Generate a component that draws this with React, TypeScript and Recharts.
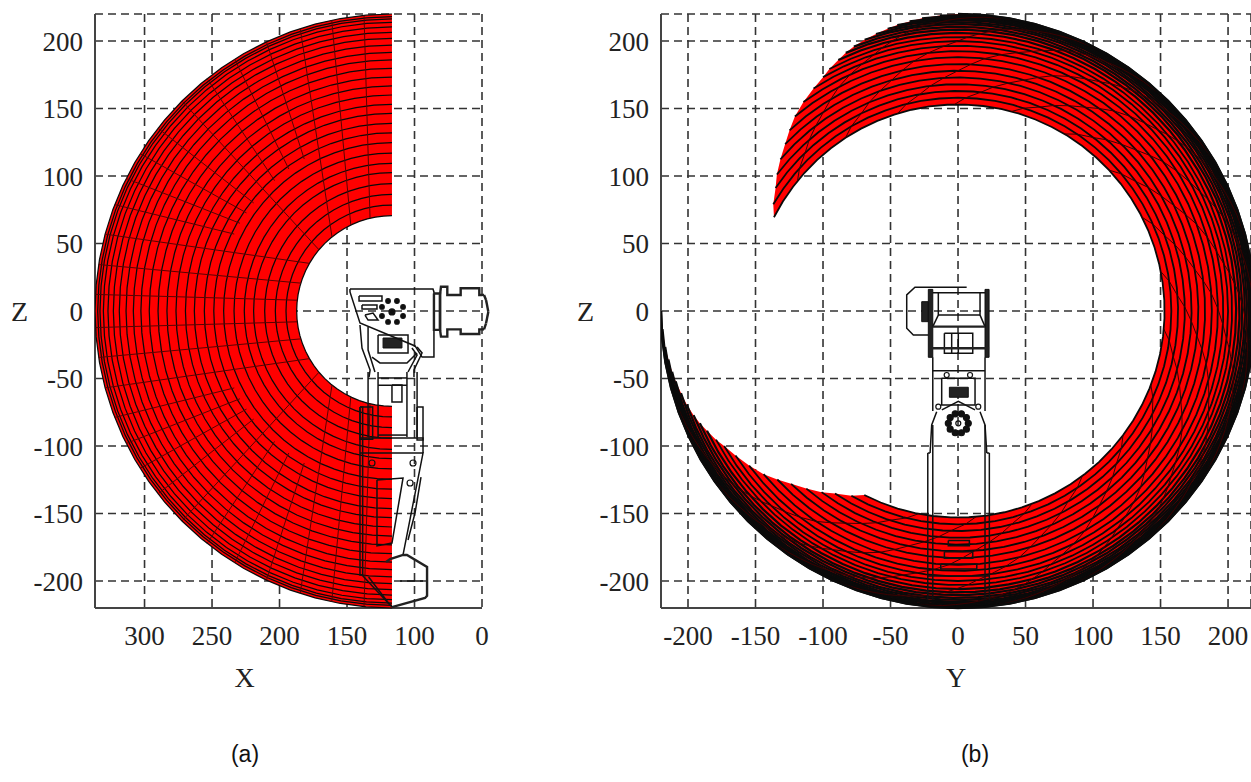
import React from 'react';
import { CartesianGrid, ReferenceLine, Scatter, ScatterChart, XAxis, YAxis } from 'recharts';

type Pair = [number, number];

// ---- axes
const zTicks = [200, 150, 100, 50, 0, -50, -100, -150, -200];
const xTicksA = [300, 250, 200, 150, 100, 50];
const xTickLabelsA = ['300', '250', '200', '150', '100', '0'];
const yTicksB = [-200, -150, -100, -50, 0, 50, 100, 150, 200];

// ---- panel (a): ring radii around the shoulder, and mesh lines
const shoulderA = 116.7;
const ringsA = [70.6, 78.5, 86.4, 94.3, 102.5, 109.4, 117, 124.7, 132, 139, 146.4, 153, 160, 166.7, 173.3, 179.8, 186, 191.6, 197, 202, 206.4, 210.4, 213.8, 216.3, 218, 220];
const arcStopsA = [0, 5, 10, 15, 20, 25, 30, 35, 40, 45, 50, 55, 60, 65, 70, 75, 80, 85, 90, 95, 100, 105, 110, 115, 120, 125, 130, 135, 140, 145, 150, 155, 160, 165, 170, 175, 180];
// [ring where it starts, angle from vertical there, angle from vertical on the outer ring]
const spokesA: [number, number, number][] = [
  [70.6, 13.3, 5.4], [70.6, 25.6, 11.7], [70.6, 39, 18], [70.6, 50, 45], [70.6, 60, 75], [70.6, 73, 81], [70.6, 83.5, 86.8],
  [130, 30, 25], [130, 36, 32], [130, 42, 38.5], [130, 52, 52], [130, 56, 58], [130, 60, 63.5], [130, 64, 69],
];

// ---- panel (b): ring radius and the angle where that ring starts
const ringsB = [153, 158, 163, 168, 173, 178, 183, 188, 192.5, 196.5, 200, 203, 206, 208.5, 210.5, 212.5, 214, 215.5, 216.5, 217.5, 218.5, 219.3, 220];
const ringStartsB = [-63, -60, -56, -53, -49.5, -46, -43, -40, -36.5, -33, -30, -28, -25.5, -23.5, -21.5, -19, -16.5, -14, -12, -9.5, -7, -3.5, 0];
const sweepStopsB = [0, 5, 10, 15, 20, 25, 30, 35, 40, 45, 50, 55, 60, 65, 70, 75, 80, 85, 90, 95, 100, 105, 110, 115, 120, 125, 130, 135, 140, 145, 150, 155, 160, 165, 170, 175, 180, 185, 190, 195, 200, 205, 210, 215, 220, 225, 230, 235, 240, 245, 250, 255, 260, 265, 270];
const spokeSweepsB = [12, 30, 46, 62, 78, 94, 110, 126, 142, 158, 174, 190, 206, 222, 238, 254];

// ---- arm outline, panel (a)
const box = (a: number, b: number, c: number, d: number): Pair[] => [[a, b], [c, b], [c, d], [a, d], [a, b]];

const armLinesA: Pair[][] = [
  [[147.8, 16.3], [86.3, 16.3], [85.6, 14.1], [85.6, -34.1], [94.4, -34.1], [99.6, -25.9], [140.4, -8.9], [147.8, 14.1], [147.8, 16.3]],
  box(141.1, 11.1, 124.1, 7.4),
  box(138.9, 4.4, 127.8, 1.5),
  [[136.7, -3], [130.7, -1.5], [127, -6.7], [134.4, -6.7], [136.7, -3]],
  box(127, -17.8, 104.8, -31.1),
  [[140.4, -10.4], [138.9, -27.4], [132.9, -43.7], [133.7, -48.9]],
  [[134.4, -11.9], [134.4, -28.9], [129.3, -45.2]],
  [[98.1, -26.7], [94.4, -31.1], [100.4, -43.7], [100.4, -48.9]],
  [[101.9, -27.4], [98.1, -32.6], [104.8, -45.2]],
  [[131.5, -34.1], [125.6, -38.5], [105.6, -38.5], [98.1, -31.1]],
  [[134.4, -45.2], [134.4, -93.3]],
  [[127, -45.2], [127, -93.3]],
  [[105.6, -45.2], [105.6, -93.3]],
  [[98.1, -45.2], [98.1, -93.3]],
  [[127, -49.6], [105.6, -49.6]],
  [[127, -55], [105.6, -55]],
  [[127, -91.9], [105.6, -91.9]],
  box(116.7, -54.8, 109.3, -67.4),
  box(98.1, -71.1, 93.7, -95.6),
  box(140.4, -71.1, 131, -95),
  [[140.4, -94], [93.7, -94], [93.7, -105.2]],
  [[140.4, -105.2], [93.7, -105.2], [108.5, -180.7]],
  box(140.4, -71.1, 138.4, -195.6),
  [[138.9, -195.6], [116.7, -219.3]],
  [[134, -197], [118, -218]],
  [[127.8, -125.2], [108.5, -123.7], [116.7, -171.9], [127.8, -174], [127.8, -125.2]],
  [[95.2, -123], [99.6, -149.6], [104.8, -169.6]],
  [[110.7, -200], [93.7, -200]],
];
const armThickA: Pair[][] = [
  [[121.1, -185.9], [118.1, -183.7], [108.5, -180.7], [105.6, -180.7], [90.7, -189.6], [90.7, -211], [92.2, -212.6], [116.7, -219.3]],
  [[81.1, 11.9], [80.4, 18], [75.7, 18], [75.7, 11.9], [65.8, 11.9], [65.8, 16.8], [52, 16.8], [52, 11.9], [50, 11.9]],
  [[50, -13.6], [52, -13.6], [52, -17], [65.8, -17], [65.8, -13.6], [75.7, -13.6], [75.7, -19], [80.4, -19], [81.1, -13.6], [81.1, 11.9]],
  [[85.6, 13], [81.1, 13], [81.1, -14], [85.6, -14], [85.6, 13]],
];
// the servo cap sticks out past the end of the X axis
const servoCapA: Pair[] = [[50, 11.9], [48.5, 11.9], [47, 8.1], [45.3, -0.5], [47, -9.1], [48.5, -13.6], [50, -13.6]];
const armFillsA: Pair[][] = [box(123.3, -20, 109.3, -27.4)];
const armDotsA: Pair[] = [[124.1, 3], [124.1, -3.7], [119.6, 7.4], [113, 7.4], [108.5, 3], [108.5, -3.7], [113, -8.1], [119.6, -8.1], [116.7, -0.7]];
const armHolesA: Pair[] = [[116.7, -0.7], [131.5, -112.6], [101.1, -112.6], [103.3, -127.4]];

// ---- arm outline, panel (b)
const armLinesB: Pair[][] = [
  [[6.4, 17.6], [-31.9, 17.6], [-38, 11.9], [-38, -12.8], [-33.1, -17.8], [-22, -17.8]],
  [[-18.7, 13.6], [20, 13.6]],
  [[-14.6, 13.6], [-14.6, -3], [-18.7, -11.6]],
  [[16.3, 13.6], [16.3, -3], [20, -11.6]],
  [[-14.6, -3], [16.3, -3]],
  box(-10.1, -16.5, 10.9, -31.3),
  [[-4.7, -16.5], [-4.7, -31.3]],
  [[0.2, -16.5], [0.2, -31.3]],
  [[-18.7, -34.3], [-18.7, -74]],
  [[20, -34.3], [20, -74]],
  [[-18.7, -44.2], [20, -44.2]],
  box(-12.1, -49.9, 12.6, -69.6),
  [[-15.8, -74.6], [-19.5, -84.4], [-20.7, -105.2]],
  [[16.3, -74.6], [20, -84.4], [21.3, -105.2]],
  [[-12, -73.3], [0.2, -67], [12.6, -73.3]],
  [[-22.4, -105.2], [-20.7, -105.2]],
  [[23.2, -105.2], [21.3, -105.2]],
  [[-22.4, -105.2], [-22.4, -214]],
  [[-18.7, -84.4], [-18.7, -214]],
  [[20, -84.4], [20, -214]],
  [[23.2, -105.2], [23.2, -214]],
  [[-22.4, -196.3], [23.2, -196.3]],
  box(-7.2, -170, 8.4, -173.8),
  box(-10.1, -178.3, 10.9, -183.2),
  box(-12.8, -187.4, 13.9, -191.1),
];
const armThickB: Pair[][] = [
  [[-18.7, -11.6], [20, -11.6]],
  [[-22, -27.6], [23, -27.6]],
];
const armFillsB: Pair[][] = [
  box(-26.9, 6.9, -22, -7.9),
  box(-22, 16, -18.7, -34.3),
  box(20, 16, 23, -34.3),
  box(-6.4, -56.5, 7.6, -63.9),
];
const armDotsB: Pair[] = [[7.6, -83.2], [6.2, -78.9], [2.5, -76.2], [-2.1, -76.2], [-5.8, -78.9], [-7.2, -83.2], [-5.8, -87.5], [-2.1, -90.2], [2.5, -90.2], [6.2, -87.5]];
const armHolesB: Pair[] = [[-8.4, -47.4], [8.9, -47.4], [-14.6, -70.9], [15, -70.9], [0.2, -83.2]];

// ---- geometry of the read values
const rad = Math.PI / 180;
const onRingA = (r: number, deg: number): Pair => [shoulderA + r * Math.sin(deg * rad), r * Math.cos(deg * rad)];
const onRingB = (r: number, deg: number): Pair => [r * Math.sin(deg * rad), r * Math.cos(deg * rad)];
const ringLineA = (r: number) => arcStopsA.map((d) => onRingA(r, d));
const ringLineB = (i: number) => sweepStopsB.map((t) => onRingB(ringsB[i], ringStartsB[i] + t));

const lastA = ringsA.length - 1;
const lastB = ringsB.length - 1;
const fillA: Pair[] = [...ringLineA(ringsA[lastA]), ...ringLineA(ringsA[0]).reverse()];
const fillB: Pair[] = [
  ...ringLineB(lastB),
  ...ringsB.map((r, i) => onRingB(r, ringStartsB[i] + 270)).reverse(),
  ...ringLineB(0).reverse(),
  ...ringsB.map((r, i) => onRingB(r, ringStartsB[i])),
];
const spokeLinesA: Pair[][] = spokesA.flatMap(([r, from, to]) => {
  const upper: Pair[] = [onRingA(r, from), onRingA(220, to)];
  const lower: Pair[] = upper.map(([x, z]) => [x, -z]);
  return [upper, lower];
});
const spokeLinesB: Pair[][] = spokeSweepsB.map((t) => ringsB.map((r, i) => onRingB(r, ringStartsB[i] + t)));

const noMark = () => <g />;

const path = (key: string, pairs: Pair[], stroke: string, width: number, fill = 'none') => (
  <Scatter
    key={key}
    data={pairs.map(([x, z]) => ({ x, z }))}
    line={{ stroke, strokeWidth: width, fill }}
    lineJointType="linear"
    shape={noMark}
    isAnimationActive={false}
  />
);

const dots = (key: string, pairs: Pair[], r: number, fill: string) => (
  <Scatter
    key={key}
    data={pairs.map(([x, z]) => ({ x, z }))}
    shape={(p: any) => <circle cx={p.cx} cy={p.cy} r={r} fill={fill} stroke="#111" strokeWidth={1.2} />}
    isAnimationActive={false}
  />
);

const tickStyle = { fontFamily: '"Liberation Serif"', fontSize: 27, fill: '#222' };
const titleStyle = { fontFamily: '"Liberation Serif"', fontSize: 28, fill: '#222' };
const axisLine = { stroke: '#444', strokeWidth: 2 };
const RED = '#ff0000';
const INK = '#0a0a0a';

const caption = (text: string, x: number) => (
  <div style={{ position: 'absolute', left: x - 40, top: 741, width: 80, textAlign: 'center', font: '23px "Liberation Sans"', color: '#111' }}>
    {text}
  </div>
);

export default function App() {
  return (
    <div style={{ position: 'absolute', left: 0, top: 0, width: 1251, height: 782, overflow: 'hidden', background: '#fff' }}>
      <div style={{ position: 'absolute', left: 0, top: 0 }}>
        <ScatterChart width={490} height={698} margin={{ top: 14, right: 8, bottom: 0, left: 0 }}>
          <CartesianGrid stroke="#333" strokeWidth={1.6} strokeDasharray="8 5" />
          <XAxis
            type="number"
            dataKey="x"
            reversed
            allowDataOverflow
            domain={[50, 336.7]}
            ticks={xTicksA}
            interval={0}
            tickFormatter={(v: number) => xTickLabelsA[xTicksA.indexOf(v)]}
            height={90}
            tickLine={false}
            tickMargin={12}
            axisLine={axisLine}
            tick={tickStyle}
            label={{ value: 'X', position: 'insideBottom', offset: 11, dx: -44, style: titleStyle }}
          />
          <YAxis
            type="number"
            dataKey="z"
            domain={[-220, 220]}
            ticks={zTicks}
            interval={0}
            width={95}
            tickLine={false}
            tickMargin={6}
            axisLine={axisLine}
            tick={tickStyle}
            label={{ value: 'Z', position: 'insideLeft', offset: 11, style: titleStyle }}
          />
          {path('fill', fillA, 'none', 0, RED)}
          {ringsA.map((r) => path(`ring-${r}`, ringLineA(r), INK, 1.25))}
          {spokeLinesA.map((s, i) => path(`spoke-${i}`, s, '#5a0000', 1))}
          {armFillsA.map((s, i) => path(`armf-${i}`, s, '#111', 1, '#222'))}
          {armLinesA.map((s, i) => path(`arm-${i}`, s, '#111', 1.5))}
          {armThickA.map((s, i) => path(`armt-${i}`, s, '#222', 2.4))}
          {servoCapA.slice(1).map((p, i) => (
            <ReferenceLine
              key={`cap-${i}`}
              ifOverflow="visible"
              segment={[{ x: servoCapA[i][0], y: servoCapA[i][1] }, { x: p[0], y: p[1] }]}
              stroke="#222"
              strokeWidth={2.4}
            />
          ))}
          {dots('dotsA', armDotsA, 2.3, '#111')}
          {dots('holesA', armHolesA, 3, 'none')}
        </ScatterChart>
      </div>
      <div style={{ position: 'absolute', left: 560, top: 0 }}>
        <ScatterChart width={691} height={698} margin={{ top: 14, right: 0, bottom: 0, left: 0 }}>
          <CartesianGrid stroke="#333" strokeWidth={1.6} strokeDasharray="8 5" />
          <XAxis
            type="number"
            dataKey="x"
            allowDataOverflow
            domain={[-220, 217]}
            ticks={yTicksB}
            interval={0}
            height={90}
            tickLine={false}
            tickMargin={12}
            axisLine={axisLine}
            tick={tickStyle}
            label={{ value: 'Y', position: 'insideBottom', offset: 11, style: titleStyle }}
          />
          <YAxis
            type="number"
            dataKey="z"
            domain={[-220, 220]}
            ticks={zTicks}
            interval={0}
            width={101}
            tickLine={false}
            tickMargin={6}
            axisLine={axisLine}
            tick={tickStyle}
            label={{ value: 'Z', position: 'insideLeft', offset: 17, style: titleStyle }}
          />
          {path('fill', fillB, 'none', 0, RED)}
          {ringsB.map((r, i) => path(`ring-${r}`, ringLineB(i), INK, i < 12 ? 1.8 : 2.2))}
          {spokeLinesB.map((s, i) => path(`spoke-${i}`, s, '#3a0000', 1))}
          {path('rim', ringLineB(lastB), INK, 2.5)}
          {armFillsB.map((s, i) => path(`armf-${i}`, s, '#111', 1, '#222'))}
          {armLinesB.map((s, i) => path(`arm-${i}`, s, '#111', 1.5))}
          {armThickB.map((s, i) => path(`armt-${i}`, s, '#222', 2.4))}
          {dots('dotsB', armDotsB, 3, '#111')}
          {dots('holesB', armHolesB, 2.5, 'none')}
        </ScatterChart>
      </div>
      {caption('(a)', 245)}
      {caption('(b)', 975)}
    </div>
  );
}
